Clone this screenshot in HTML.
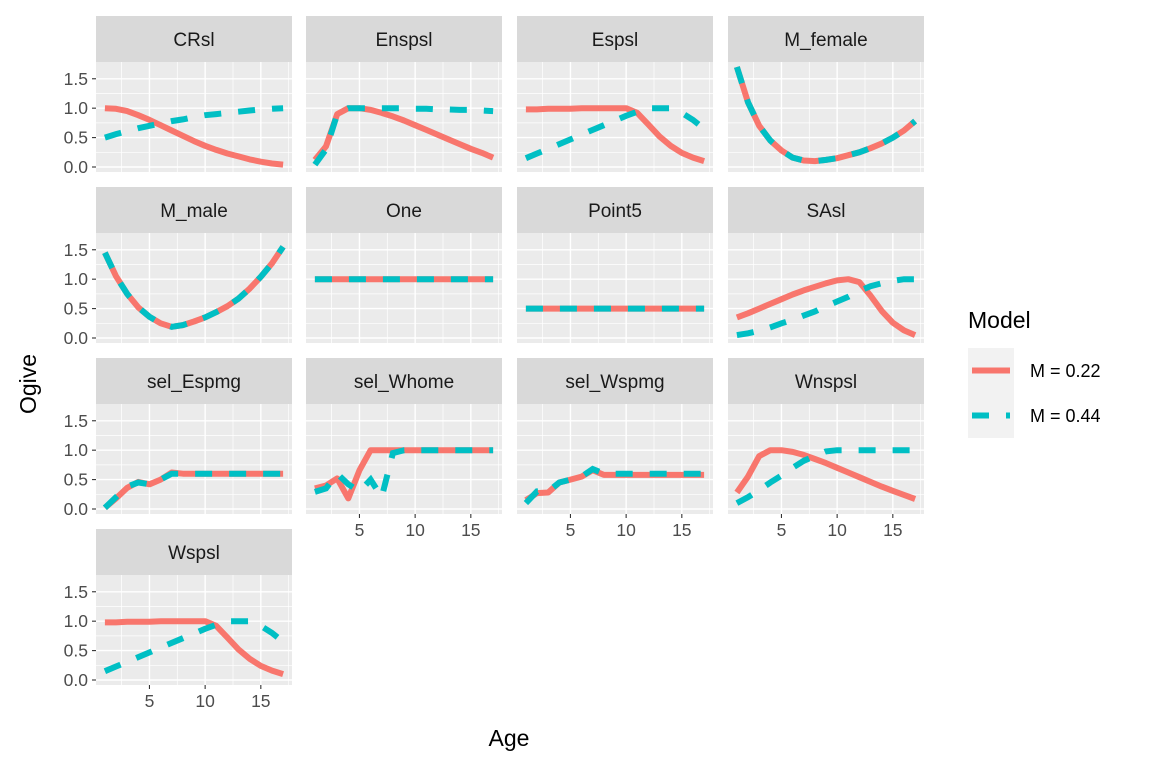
<!DOCTYPE html>
<html><head><meta charset="utf-8"><style>
html,body{margin:0;padding:0;background:#fff;}
svg{display:block;font-family:"Liberation Sans",Arial,sans-serif;}
</style></head><body>
<svg id="chart" width="1152" height="768" viewBox="0 0 1152 768" xmlns="http://www.w3.org/2000/svg"></svg>
<script>
const panels = ["CRsl","Enspsl","Espsl","M_female","M_male","One","Point5","SAsl","sel_Espmg","sel_Whome","sel_Wspmg","Wnspsl","Wspsl"];
const ages = [1,2,3,4,5,6,7,8,9,10,11,12,13,14,15,16,17];
const seriesA = {
 CRsl:[1.0,0.99,0.95,0.88,0.8,0.71,0.62,0.53,0.44,0.36,0.29,0.23,0.18,0.13,0.09,0.06,0.04],
 Enspsl:[0.12,0.35,0.9,1.0,1.0,0.97,0.92,0.86,0.79,0.71,0.63,0.55,0.47,0.39,0.31,0.24,0.16],
 Espsl:[0.98,0.98,0.99,0.99,0.99,1.0,1.0,1.0,1.0,1.0,0.92,0.72,0.52,0.36,0.24,0.16,0.1],
 M_female:[1.7,1.1,0.7,0.45,0.28,0.16,0.11,0.1,0.12,0.15,0.2,0.25,0.32,0.4,0.5,0.62,0.78],
 M_male:[1.45,1.05,0.75,0.52,0.36,0.25,0.19,0.22,0.28,0.35,0.44,0.54,0.67,0.84,1.04,1.27,1.55],
 One:[1,1,1,1,1,1,1,1,1,1,1,1,1,1,1,1,1],
 Point5:[0.5,0.5,0.5,0.5,0.5,0.5,0.5,0.5,0.5,0.5,0.5,0.5,0.5,0.5,0.5,0.5,0.5],
 SAsl:[0.35,0.42,0.5,0.58,0.66,0.74,0.81,0.87,0.93,0.98,1.0,0.95,0.72,0.46,0.26,0.13,0.05],
 sel_Espmg:[0.02,0.18,0.36,0.46,0.42,0.5,0.62,0.6,0.6,0.6,0.6,0.6,0.6,0.6,0.6,0.6,0.6],
 sel_Whome:[0.35,0.4,0.52,0.18,0.66,1.0,1.0,1.0,1.0,1.0,1.0,1.0,1.0,1.0,1.0,1.0,1.0],
 sel_Wspmg:[0.15,0.27,0.28,0.45,0.5,0.55,0.66,0.58,0.58,0.58,0.58,0.58,0.58,0.58,0.58,0.58,0.58],
 Wnspsl:[0.28,0.55,0.9,1.0,1.0,0.97,0.92,0.85,0.78,0.7,0.62,0.54,0.46,0.38,0.31,0.24,0.17],
 Wspsl:[0.98,0.98,0.99,0.99,0.99,1.0,1.0,1.0,1.0,1.0,0.92,0.72,0.52,0.36,0.24,0.16,0.1]
};
const seriesB = {
 CRsl:[0.5,0.56,0.61,0.66,0.7,0.74,0.78,0.81,0.85,0.88,0.9,0.92,0.94,0.96,0.98,0.99,1.0],
 Enspsl:[0.04,0.3,0.9,1.0,1.0,1.0,1.0,1.0,1.0,0.99,0.99,0.98,0.98,0.97,0.97,0.96,0.95],
 Espsl:[0.15,0.23,0.31,0.39,0.47,0.55,0.63,0.71,0.79,0.87,0.94,1.0,1.0,1.0,0.92,0.8,0.65],
 M_female:[1.7,1.1,0.7,0.45,0.28,0.16,0.11,0.1,0.12,0.15,0.2,0.25,0.32,0.4,0.5,0.62,0.78],
 M_male:[1.45,1.05,0.75,0.52,0.36,0.25,0.19,0.22,0.28,0.35,0.44,0.54,0.67,0.84,1.04,1.27,1.55],
 One:[1,1,1,1,1,1,1,1,1,1,1,1,1,1,1,1,1],
 Point5:[0.5,0.5,0.5,0.5,0.5,0.5,0.5,0.5,0.5,0.5,0.5,0.5,0.5,0.5,0.5,0.5,0.5],
 SAsl:[0.05,0.08,0.12,0.18,0.25,0.31,0.38,0.45,0.54,0.62,0.7,0.8,0.88,0.93,0.97,1.0,1.0],
 sel_Espmg:[0.02,0.2,0.38,0.45,0.42,0.5,0.6,0.6,0.6,0.6,0.6,0.6,0.6,0.6,0.6,0.6,0.6],
 sel_Whome:[0.29,0.35,0.6,0.42,0.3,0.5,0.2,0.95,1.0,1.0,1.0,1.0,1.0,1.0,1.0,1.0,1.0],
 sel_Wspmg:[0.1,0.3,0.3,0.45,0.5,0.55,0.68,0.6,0.6,0.6,0.6,0.6,0.6,0.6,0.6,0.6,0.6],
 Wnspsl:[0.1,0.2,0.32,0.45,0.57,0.7,0.82,0.9,0.98,1.0,1.0,1.0,1.0,1.0,1.0,1.0,1.0],
 Wspsl:[0.15,0.23,0.31,0.39,0.47,0.55,0.63,0.71,0.79,0.87,0.94,1.0,1.0,1.0,0.92,0.8,0.65]
};
const yTicks = [0,0.5,1,1.5];
const yTickLabels = ["0.0","0.5","1.0","1.5"];
const xTicks = [5,10,15];
const legendLabels = ["M = 0.22","M = 0.44"];

const NS="http://www.w3.org/2000/svg";
const svg=document.getElementById('chart');
function mk(tag,attrs,parent){const e=document.createElementNS(NS,tag);for(const k in attrs)e.setAttribute(k,attrs[k]);(parent||svg).appendChild(e);return e;}
const colX=[96,306,517,728], pw=196, rowStrip=[16,187,358,529], sh=46, ph=110;
const xmin=0.2,xmax=17.8,ymin=-0.085,ymax=1.785;
const RED="#F8766D", BLUE="#00BFC4";
panels.forEach((name,i)=>{
  const c=i%4,r=Math.floor(i/4);
  const x0=colX[c], sy=rowStrip[r], y0=sy+sh;
  const sx=v=>x0+(v-xmin)/(xmax-xmin)*pw;
  const syf=v=>y0+ph-(v-ymin)/(ymax-ymin)*ph;
  const g=mk('g',{});
  
  
  const strip=mk('rect',{x:x0,y:sy,width:pw,height:sh,fill:'#d9d9d9'},g);
  
  
  const st=mk('text',{x:x0+pw/2,y:sy+30,'text-anchor':'middle','font-size':19,fill:'#1a1a1a'},g);
  st.textContent=name;
  
  
  const bg=mk('rect',{x:x0,y:y0,width:pw,height:ph,fill:'#ebebeb'},g);
  
  
  [0.25,0.75,1.25].forEach(v=>mk('line',{x1:x0,x2:x0+pw,y1:syf(v),y2:syf(v),stroke:'#fff','stroke-width':0.7},g));
  [2.5,7.5,12.5,17.5].forEach(v=>mk('line',{x1:sx(v),x2:sx(v),y1:y0,y2:y0+ph,stroke:'#fff','stroke-width':0.7},g));
  yTicks.forEach(v=>mk('line',{x1:x0,x2:x0+pw,y1:syf(v),y2:syf(v),stroke:'#fff','stroke-width':1.4},g));
  xTicks.forEach(v=>mk('line',{x1:sx(v),x2:sx(v),y1:y0,y2:y0+ph,stroke:'#fff','stroke-width':1.4},g));
  const ptsA=ages.map((a,k)=>sx(a).toFixed(1)+','+syf(seriesA[name][k]).toFixed(1)).join(' ');
  const ptsB=ages.map((a,k)=>sx(a).toFixed(1)+','+syf(seriesB[name][k]).toFixed(1)).join(' ');
  const la=mk('polyline',{points:ptsA,fill:'none',stroke:RED,'stroke-width':6,'stroke-linejoin':'round'},g);
  
  
  const lb=mk('polyline',{points:ptsB,fill:'none',stroke:BLUE,'stroke-width':6,'stroke-dasharray':'17,17'},g);
  
  
  if(c===0){
    yTicks.forEach((v,k)=>{
      mk('line',{x1:x0-4,x2:x0,y1:syf(v),y2:syf(v),stroke:'#333','stroke-width':1.1},g);
      const t=mk('text',{x:x0-8,y:syf(v)+6,'text-anchor':'end','font-size':17.5,fill:'#4d4d4d'},g);
      t.textContent=yTickLabels[k];
      
      
    });
  }
  const bottom = (r===3) || (r===2 && c>0);
  if(bottom){
    xTicks.forEach(v=>{
      mk('line',{x1:sx(v),x2:sx(v),y1:y0+ph,y2:y0+ph+4,stroke:'#333','stroke-width':1.1},g);
      const t=mk('text',{x:sx(v),y:y0+ph+22,'text-anchor':'middle','font-size':17.5,fill:'#4d4d4d'},g);
      t.textContent=String(v);
      
      
    });
  }
});
const xt=mk('text',{x:509,y:746,'text-anchor':'middle','font-size':23,fill:'#000'});
xt.textContent='Age';


const yt=mk('text',{x:0,y:0,'text-anchor':'middle','font-size':23,fill:'#000',transform:'translate(36,384) rotate(-90)'});
yt.textContent='Ogive';


const lg=mk('g',{});


const ltitle=mk('text',{x:968,y:328,'font-size':23,fill:'#000'},lg);
ltitle.textContent='Model';


[RED,BLUE].forEach((col,k)=>{
  const ky=348+k*45;
  const e=mk('g',{},lg);
  
  
  mk('rect',{x:968,y:ky,width:46,height:45,fill:'#f2f2f2'},e);
  mk('line',{x1:972,x2:1010,y1:ky+22.5,y2:ky+22.5,stroke:col,'stroke-width':6,'stroke-dasharray':k?'17,17':'none'},e);
  const t=mk('text',{x:1030,y:ky+29,'font-size':18,fill:'#000'},e);
  t.textContent=legendLabels[k];
});
</script>
</body></html>
